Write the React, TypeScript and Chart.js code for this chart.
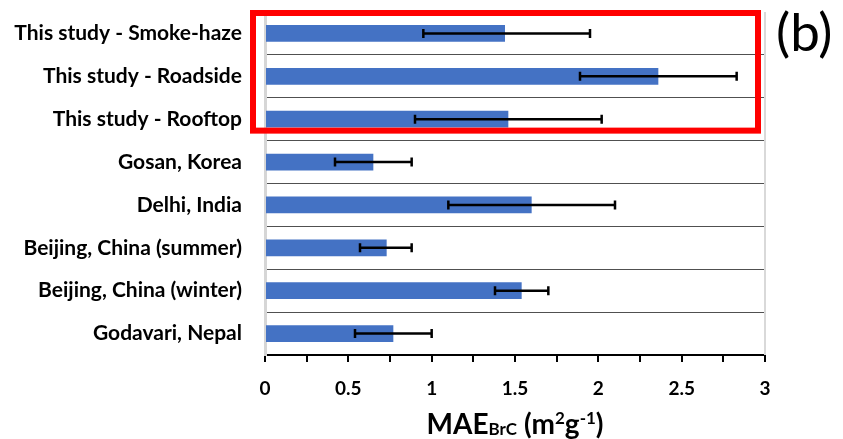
import React, { useEffect, useRef } from "react";
import { Chart, registerables } from "chart.js";

Chart.register(...registerables);

const categories = [
  "This study - Smoke-haze",
  "This study - Roadside",
  "This study - Rooftop",
  "Gosan, Korea",
  "Delhi, India",
  "Beijing, China (summer)",
  "Beijing, China (winter)",
  "Godavari, Nepal",
];
const maeValues = [1.44, 2.36, 1.46, 0.65, 1.6, 0.73, 1.54, 0.77];
const errLower = [0.95, 1.89, 0.9, 0.42, 1.1, 0.57, 1.38, 0.54];
const errUpper = [1.95, 2.83, 2.02, 0.88, 2.1, 0.88, 1.7, 1.0];
const xLabelledTicks = [0, 0.5, 1, 1.5, 2, 2.5, 3];
const highlightedRows = [0, 2];
const panelLabel = "(b)";

const FONT = "Lato, 'Open Sans', sans-serif";

const errorBarPlugin = {
  id: "errorBars",
  afterDatasetsDraw(chart: any) {
    const { ctx } = chart;
    const x = chart.scales.x;
    const meta = chart.getDatasetMeta(0);
    ctx.save();
    ctx.strokeStyle = "#000000";
    meta.data.forEach((bar: any, i: number) => {
      const y = bar.y;
      const x0 = x.getPixelForValue(errLower[i]);
      const x1 = x.getPixelForValue(errUpper[i]);
      ctx.lineWidth = 2.5;
      ctx.beginPath();
      ctx.moveTo(x0, y);
      ctx.lineTo(x1, y);
      ctx.stroke();
      ctx.lineWidth = 2.5;
      ctx.beginPath();
      ctx.moveTo(x0, y - 4.5);
      ctx.lineTo(x0, y + 4.5);
      ctx.moveTo(x1, y - 4.5);
      ctx.lineTo(x1, y + 4.5);
      ctx.stroke();
    });
    ctx.restore();
  },
};

const framePlugin = {
  id: "frameAndHighlight",
  afterDraw(chart: any) {
    const { ctx, chartArea } = chart;
    const y = chart.scales.y;
    ctx.save();
    // right plot border
    ctx.strokeStyle = "#d9d9d9";
    ctx.lineWidth = 2;
    ctx.beginPath();
    ctx.moveTo(chartArea.right, chartArea.top);
    ctx.lineTo(chartArea.right, chartArea.bottom);
    ctx.stroke();
    // highlight box
    const band = y.getPixelForValue(1) - y.getPixelForValue(0);
    const top = y.getPixelForValue(highlightedRows[0]) - band / 2 + 1;
    const bottom = y.getPixelForValue(highlightedRows[1]) + band / 2 - 10;
    const left = chartArea.left - 12;
    const right = chartArea.right - 7;
    ctx.strokeStyle = "#ff0000";
    ctx.lineWidth = 6;
    ctx.strokeRect(left, top, right - left, bottom - top);
    ctx.restore();
  },
};

export default function App() {
  const canvasRef = useRef<HTMLCanvasElement | null>(null);

  useEffect(() => {
    if (!canvasRef.current) return;
    const chart = new Chart(canvasRef.current, {
      type: "bar",
      data: {
        labels: categories,
        datasets: [
          {
            data: maeValues,
            backgroundColor: "#4472c4",
            borderWidth: 0,
            categoryPercentage: 1,
            barPercentage: 0.39,
          },
        ],
      },
      options: {
        indexAxis: "y",
        responsive: false,
        animation: false,
        layout: { padding: { top: 12, right: 78, left: 0, bottom: 0 } },
        plugins: {
          legend: { display: false },
          tooltip: { enabled: false },
        },
        scales: {
          x: {
            min: 0,
            max: 3,
            afterFit: (scale: any) => {
              scale.height = 84;
            },
            ticks: {
              stepSize: 0.25,
              autoSkip: false,
              maxRotation: 0,
              padding: 15,
              color: "#000000",
              font: { family: FONT, size: 19, weight: "bold" },
              callback: (v: any) => (xLabelledTicks.includes(Number(v)) ? String(Number(v)) : ""),
            },
            grid: {
              drawOnChartArea: false,
              drawTicks: true,
              tickLength: 7,
              color: "#000000",
              lineWidth: 2,
            },
            border: { display: true, color: "#000000", width: 2 },
          },
          y: {
            afterFit: (scale: any) => {
              scale.width = 265;
              scale.paddingTop = 0;
              scale.paddingBottom = 0;
            },
            ticks: {
              padding: 23,
              color: "#000000",
              font: { family: FONT, size: 21, weight: "bold" },
            },
            grid: {
              offset: true,
              drawTicks: false,
              lineWidth: 1,
              color: (c: any) => (c.index === 0 ? "rgba(0,0,0,0)" : "#505050"),
            },
            border: { display: true, color: "#d6d6d6", width: 3 },
          },
        },
      },
      plugins: [errorBarPlugin, framePlugin],
    });
    return () => chart.destroy();
  }, []);

  return (
    <div style={{ position: "absolute", left: 0, top: 0, width: 843, height: 439, background: "#ffffff", overflow: "hidden" }}>
      <canvas ref={canvasRef} width={843} height={439} style={{ display: "block" }} />
      <div
        style={{
          position: "absolute",
          left: 776,
          top: 0,
          fontFamily: FONT,
          fontSize: 53,
          color: "#000000",
          lineHeight: "62px",
        }}
      >
        {panelLabel}
      </div>
      <div
        style={{
          position: "absolute",
          left: 265,
          width: 500,
          top: 407,
          textAlign: "center",
          fontFamily: FONT,
          fontWeight: "bold",
          fontSize: 28,
          lineHeight: "32px",
          color: "#000000",
        }}
      >
        MAE
        <span style={{ fontSize: 17, verticalAlign: "-1px" }}>BrC</span> (m
        <sup style={{ fontSize: 17, lineHeight: 0, verticalAlign: "10px" }}>2</sup>g
        <sup style={{ fontSize: 17, lineHeight: 0, verticalAlign: "10px" }}>-1</sup>)
      </div>
    </div>
  );
}
